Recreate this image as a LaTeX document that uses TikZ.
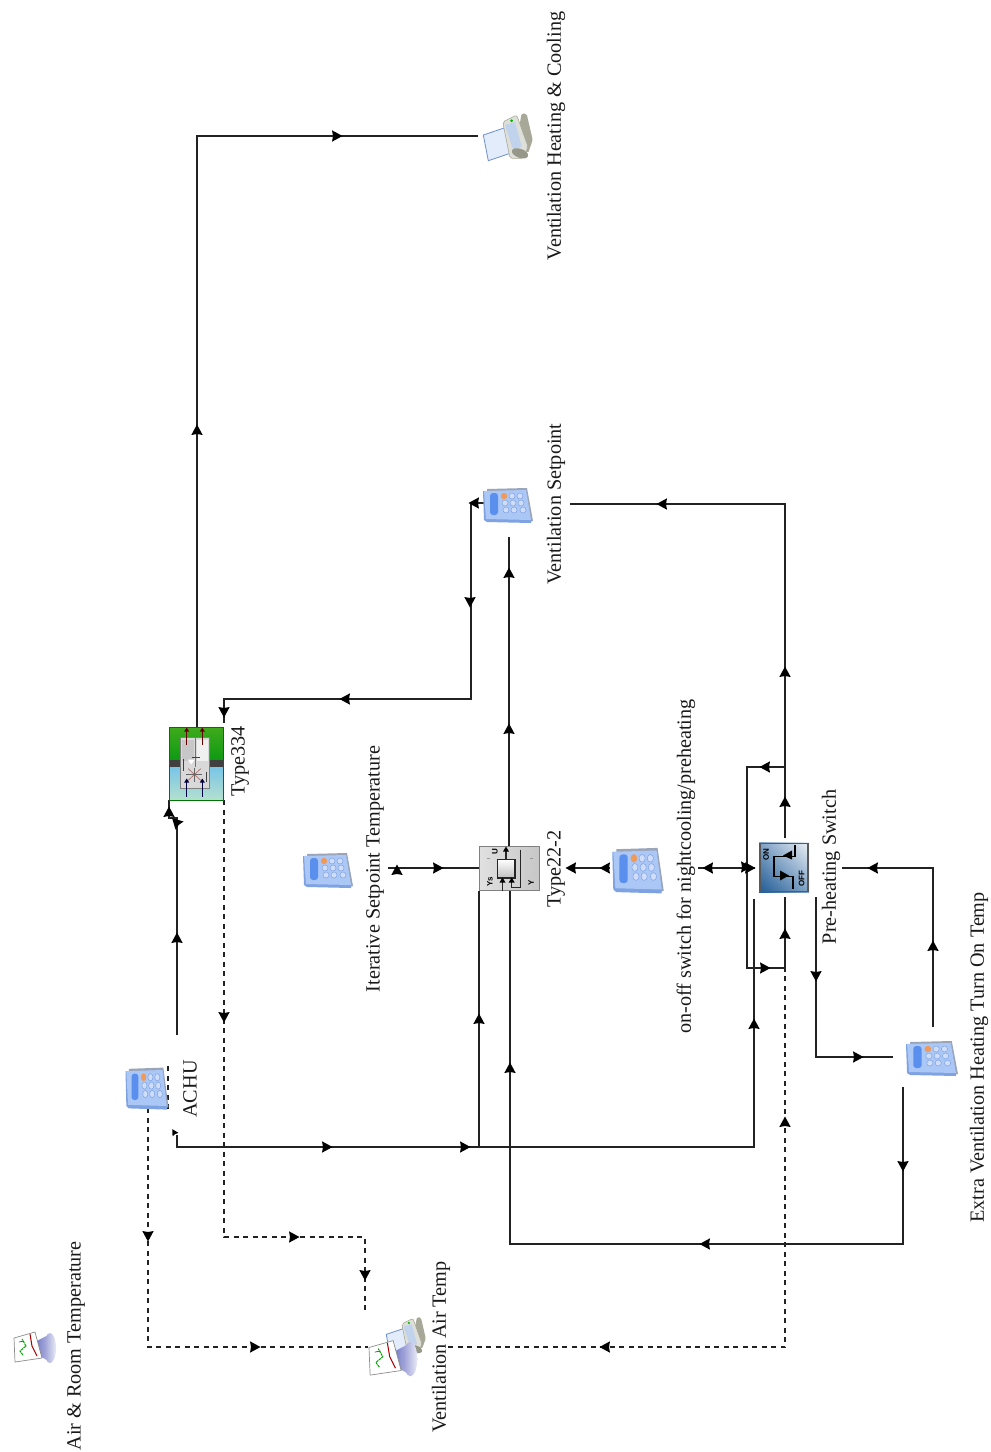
\documentclass[tikz,border=0pt]{standalone}
\usepackage{fontspec}
\setmainfont{Liberation Serif}
\newfontfamily\iconfont{Liberation Sans}
\usetikzlibrary{calc,shadings}
\definecolor{wirec}{HTML}{222222}
\definecolor{calcbody}{HTML}{ABC7F6}
\definecolor{calcdark}{HTML}{6F7F9C}
\definecolor{calcblue}{HTML}{5B8FEE}
\definecolor{calckey}{HTML}{CFDDF8}
\definecolor{calcedge}{HTML}{7FA3E2}
\definecolor{orangekey}{HTML}{F09A5A}
\definecolor{megaphone}{HTML}{6F75C4}
\definecolor{printgray}{HTML}{A8A898}
\definecolor{printlight}{HTML}{DEDFD8}
\definecolor{printblue}{HTML}{C0D2EC}
\definecolor{paperblue}{HTML}{E3ECFB}
\definecolor{paperedge}{HTML}{6E8FD0}
\definecolor{swdark}{HTML}{1F5A94}
\definecolor{swmid}{HTML}{7FA2C6}
\definecolor{swlight}{HTML}{EDF1F6}
\definecolor{ahugreenA}{HTML}{3FAA1C}
\definecolor{ahugreenB}{HTML}{0E9A14}
\definecolor{ahublueA}{HTML}{79C5E6}
\definecolor{ahublueB}{HTML}{B4E0CE}
\tikzset{
  x=1pt,y=-1pt,
  wire/.style={draw=wirec,line width=1.1pt},
  dwire/.style={draw=wirec,line width=1.1pt,dash pattern=on 5pt off 4.5pt},
  lab/.style={rotate=90,inner sep=0pt,font=\fontsize{20.2}{20}\selectfont,text=black!90},
  tip/.pic={\fill[black] (5.5,0) -- (-5,5.7) -- (-4,0) -- (-5,-5.7) -- cycle;},
  icotext/.style={rotate=90,inner sep=0pt,font=\iconfont\bfseries\fontsize{8}{8}\selectfont}
}
\newcommand\tipat[3]{\pic[rotate=#3] at (#1,#2) {tip};}
% name, x, y, xscale, yscale
\newcommand\calcicon[5]{%
  \node[inner sep=0pt,minimum width=#4*48pt,minimum height=#5*34pt] (#1) at (#2,#3) {};
  \begin{scope}[shift={(#2,#3)},xscale=#4,yscale=#5]
    \fill[calcdark!70] (-21,-16) -- (19,-17) -- (25,16) -- (21,17) -- (-21,-12) -- cycle;
    \fill[calcedge] (-25,-14) -- (-24,15) -- (-21,17) -- (23,18) -- (23,15) -- (-20,-14) -- cycle;
    \fill[calcbody] (-24,-14) -- (18,-15) -- (23,15) -- (-22,14) -- cycle;
    \fill[calcblue,rounded corners=3pt] (-18,-12) rectangle (-10,10);
    \fill[orangekey] (-4,-9) circle (3.2);
    \foreach \kx/\ky in {4/-9,12/-9,-3/-2,5/-2,13/-2,-2/5,6/5,15/5}
      {\fill[calckey] (\kx,\ky) circle (3);\draw[calcedge,line width=.5pt] (\kx,\ky) circle (3);}
  \end{scope}}
\newcommand\printerdraw{%
    \fill[paperblue] (-24.7,-2) -- (-3,-9.3) -- (7,14.7) -- (-19.7,23.7) -- cycle;
    \draw[paperedge,line width=.8pt] (-3,-9.3) -- (-24.7,-2) -- (-19.7,23.7) -- (7,14.7);
    \fill[printgray,rounded corners=1.5pt] (13.7,-23.7) -- (18.7,-23) -- (24.7,3) -- (20,16.3) -- (8.7,3) -- cycle;
    \fill[printlight,draw=printgray,line width=.6pt,rounded corners=2pt] (-5.3,-15) -- (8.7,-22) -- (20,9.7) -- (15.3,21.3) -- (2,21.3) -- cycle;
    \fill[printblue] (-3,-12) -- (7,-15) -- (13.7,9.7) -- (5.3,13) -- cycle;
    \fill[printgray!90!black,rotate around={-20:(12,16.3)}] (12,16.3) ellipse (8.5 and 4.5);
    \fill[green!70!black] (3.7,-16.3) circle (1.5);
}
\newcommand\plotdraw{%
    \shade[left color=megaphone,right color=megaphone!45] (1,-6) -- (16,-14) -- (16,14) -- (6,8) -- cycle;
    \shade[left color=megaphone!70,right color=megaphone!15] (16,0) ellipse (6 and 15);
    \fill[white,draw=black!45,line width=.7pt] (-20,-10) -- (1,-16) -- (8,10) -- (-19,14) -- cycle;
    \draw[green!65!black,line width=1pt,dash pattern=on 2.5pt off .7pt] (-11,7) -- (-14,3) -- (-8,-2) -- (-12,-9);
    \draw[red!65!black,line width=1pt] (-4,-14) -- (-2,-2) -- (3,8);
    \draw[black!70,line width=.7pt] (-15,-6) -- (-10,-7);
}
\begin{document}
\begin{tikzpicture}
\useasboundingbox (0,0) rectangle (991,1452);
\fill[white] (0,0) rectangle (991,1452);

% --- wires (drawn first, icons on top)
\coordinate (p1) at (197,727);  \coordinate (p2) at (197,136);  \coordinate (prn) at (478,136);
\coordinate (s1) at (484,503);  \coordinate (s2) at (471,503);  \coordinate (s3) at (471,699);
\coordinate (s4) at (224,699);  \coordinate (s5) at (224,723);
\coordinate (a1) at (177,1035); \coordinate (a2) at (177,818);  \coordinate (a3) at (169,818);
\coordinate (a4) at (169,800);
\coordinate (b1) at (177,1135); \coordinate (b2) at (177,1147);
\coordinate (b3) at (754,1147); \coordinate (b4) at (754,899);  \coordinate (b5) at (479,1147);
\coordinate (b6) at (479,891);
\coordinate (l1) at (785,767);  \coordinate (l2) at (747,767);  \coordinate (l3) at (747,968);
\coordinate (l4) at (785,968);  \coordinate (l5) at (785,897);  \coordinate (sw1) at (785,838);
\coordinate (sw2) at (785,504); \coordinate (sw3) at (570,504);
\coordinate (oc1) at (698,868); \coordinate (oc2) at (755,868);
\coordinate (oc3) at (568,868); \coordinate (oc4) at (610,868);
\coordinate (t1) at (479,868);  \coordinate (t2) at (388,868);
\coordinate (t3) at (509,846);  \coordinate (t4) at (509,537);
\coordinate (t5) at (510,891);  \coordinate (t6) at (510,1244); \coordinate (t7) at (903,1244);
\coordinate (t8) at (903,1087);
\coordinate (h1) at (816,897);  \coordinate (h2) at (816,1057); \coordinate (h3) at (893,1057);
\coordinate (e1) at (933,1027); \coordinate (e2) at (933,868);  \coordinate (e3) at (842,868);
\coordinate (d1) at (224,800);  \coordinate (d2) at (224,1237); \coordinate (d3) at (365,1237);
\coordinate (d4) at (365,1313);
\coordinate (f1) at (148,1108); \coordinate (f2) at (148,1347); \coordinate (f3) at (368,1347);
\coordinate (g1) at (448,1347); \coordinate (g2) at (785,1347); \coordinate (g3) at (785,968);
\coordinate (k1) at (168,1066); \coordinate (k2) at (168,1110);

\draw[wire] (p1) -- (p2) -- (prn);
\draw[wire] (s1) -- (s2) -- (s3) -- (s4) -- (s5);
\draw[wire] (a1) -- (a2) -- (a3) -- (a4);
\draw[wire] (b1) -- (b2) -- (b3) -- (b4);
\draw[wire] (b5) -- (b6);
\draw[wire] (l4) -- (l3) -- (l2) -- (l1);
\draw[wire] (l4) -- (l5);
\draw[wire] (sw1) -- (sw2) -- (sw3);
\draw[wire] (oc1) -- (oc2);
\draw[wire] (oc3) -- (oc4);
\draw[wire] (t1) -- (t2);
\draw[wire] (t3) -- (t4);
\draw[wire] (t5) -- (t6) -- (t7) -- (t8);
\draw[wire] (h1) -- (h2) -- (h3);
\draw[wire] (e1) -- (e2) -- (e3);
\draw[dwire] (d1) -- (d2) -- (d3) -- (d4);
\draw[dwire] (f1) -- (f2) -- (f3);
\draw[dwire] (g1) -- (g2) -- (g3);
\draw[dwire] (k1) -- (k2);

% --- arrow heads
\tipat{197}{430}{90}\tipat{337}{136}{0}
\tipat{474}{503}{180}\tipat{470}{602}{270}\tipat{345}{699}{180}\tipat{224}{712}{270}
\tipat{177}{938}{90}\tipat{176}{822}{135}\tipat{169}{812}{90}
\pic[rotate=120,scale=.6] at (174,1132) {tip};
\tipat{327}{1147}{0}\tipat{465}{1147}{0}\tipat{754}{1024}{90}\tipat{479}{1019}{90}
\tipat{765}{767}{180}\tipat{765}{968}{0}\tipat{785}{934}{90}\tipat{785}{802}{90}\tipat{785}{672}{90}\tipat{662}{504}{180}
\tipat{708}{868}{180}\tipat{746}{867}{0}\tipat{750}{868}{0}
\tipat{571}{868}{180}\tipat{605}{868}{180}
\tipat{397}{870}{90}\tipat{438}{868}{0}
\tipat{509}{729}{90}\tipat{509}{573}{90}
\tipat{510}{1068}{90}\tipat{705}{1244}{180}\tipat{903}{1166}{270}
\tipat{816}{976}{270}\tipat{858}{1057}{0}
\tipat{933}{946}{90}\tipat{873}{868}{180}
\tipat{224}{1017}{270}\tipat{294}{1237}{0}\tipat{365}{1275}{270}
\tipat{148}{1236}{270}\tipat{255}{1347}{0}
\tipat{605}{1347}{180}\tipat{785}{1122}{90}

% --- calculators
\calcicon{achu}{147}{1088}{.86}{1.2}
\calcicon{iter}{328}{870}{1}{1}
\calcicon{vset}{508}{505}{1}{1}
\calcicon{onoff}{638}{870}{1.03}{1.3}
\calcicon{extra}{932}{1058}{1.04}{1}

% --- printer
\node[inner sep=0pt,minimum width=50pt,minimum height=48pt] (vhc) at (508,137) {};
\begin{scope}[shift={(508,137)}]\printerdraw\end{scope}

% --- online plotters
\node[inner sep=0pt,minimum width=42pt,minimum height=30pt] (arplot) at (34,1348) {};
\begin{scope}[shift={(34,1348)}]\plotdraw\end{scope}
\node[inner sep=0pt,minimum width=48pt,minimum height=54pt] (vatplot) at (392,1348) {};
\begin{scope}[shift={(406,1336)},scale=.8]\printerdraw\end{scope}
\begin{scope}[shift={(392,1359)},scale=1.15]\plotdraw\end{scope}

% --- Type334
\node[inner sep=0pt,minimum width=54pt,minimum height=73pt] (ty334) at (196,763.5) {};
\begin{scope}[shift={(196,763.5)}]
  \shade[top color=ahugreenA,bottom color=ahugreenB] (-27,-36) rectangle (27,-3.5);
  \fill[black!75] (-27,-3.5) rectangle (27,3.8);
  \shade[top color=ahublueA,bottom color=ahublueB] (-27,3.8) rectangle (27,36);
  \draw[black!55!green,line width=.8pt] (-27,-36) rectangle (27,36.5);
  \fill[black!15] (-16,-26) rectangle (13,25);
  \draw[black!50,line width=.7pt] (-16,-26) rectangle (13,25);
  \fill[black!22] (-14,-24) rectangle (-2,-3);
  \fill[black!6] (1,-24) rectangle (12,-3);
  \draw[black!55,line width=.7pt] (-1,-26) -- (-1,3);
  \fill[white] (-8,-4) -- (-1,-4) -- (-5,1) -- cycle;
  \draw[red!45!black!60,line width=.6pt] (-8,5) -- (5,17) (5,5) -- (-8,17);
  \draw[black!60,line width=.6pt] (-2,4) -- (-2,18) (-10,11) -- (6,11);
  \foreach \ax in {-9.3,6.3}{
    \draw[red!40!black,line width=1.3pt] (\ax,-35) -- (\ax,-18.5);
    \fill[red!40!black] (\ax-2.5,-32) -- (\ax+2.5,-32) -- (\ax,-36) -- cycle;
    \draw[blue!25!black,line width=1.3pt] (\ax,16.5) -- (\ax,33);
    \fill[blue!25!black] (\ax-2.5,19) -- (\ax+2.5,19) -- (\ax,15) -- cycle;
  }
  \draw[black!75,line width=1pt] (-13,-5) -- (-13,7) (10,8) -- (10,18);
  \draw[black!75,line width=1pt] (-4,-6) -- (4,-6);
\end{scope}

% --- Type22-2
\node[inner sep=0pt,minimum width=60pt,minimum height=45pt] (ty22) at (509,868.5) {};
\begin{scope}[shift={(509,868.5)}]
  \shade[left color=black!12,right color=black!22,draw=black!50,line width=1pt] (-30,-22) rectangle (30,22);
  \draw[black!40,line width=.5pt] (-22,-10) -- (-19,-10) (21,-10) -- (24,-10);
  \shade[top color=white,bottom color=black!25,draw=black!85,line width=1.6pt] (-11.7,-9) rectangle (6,9.5);
  \draw[black!85,line width=1.4pt] (11.7,-19) -- (11.7,19) -- (2.7,19) -- (2.7,9.5);
  \draw[black!85,line width=1.4pt] (-3,-19) -- (-3,-9);
  \fill[black] (-6,-17) -- (0,-17) -- (-3,-22) -- cycle;
  \draw[black!85,line width=1.4pt] (-6.5,22) -- (-6.5,9.5);
  \fill[black] (-9.5,14) -- (-3.5,14) -- (-6.5,9) -- cycle;
  \fill[black] (-.3,14) -- (5.7,14) -- (2.7,9) -- cycle;
  \node[icotext] (lblU) at (-14,-16.5) {U};
  \node[icotext] (lblYs) at (-19,13) {Ys};
  \node[icotext] (lblY) at (22,14.5) {Y};
\end{scope}

% --- switch
\node[inner sep=0pt,minimum width=50pt,minimum height=50pt] (switch) at (784,867.5) {};
\begin{scope}[shift={(784,867.5)}]
  \shade[lower left=swdark,upper right=swlight,lower right=swmid,upper left=swmid] (-25,-25) rectangle (25,25);
  \draw[black!65,line width=1.3pt] (-24,-24) rectangle (24,24);
  \draw[black,line width=1.8pt,line join=miter] (11,-22.5) -- (11,-11) -- (-10,-11) -- (-10,9) -- (9.3,9) -- (9.3,21);
  \fill[black] (-1,-12) -- (8,-17) -- (8,-8) -- cycle;
  \fill[black] (5,8) -- (-4,3) -- (-4,13) -- cycle;
  \node[icotext] (lblON) at (-18,-13) {ON};
  \node[icotext] (lblOFF) at (17.7,11) {OFF};
\end{scope}

% --- labels
\node[lab] (lvhc) at (556,136) {Ventilation Heating \& Cooling};
\node[lab] (lvset) at (556,504) {Ventilation Setpoint};
\node[lab] (l334) at (240,761.5) {Type334};
\node[lab] (liter) at (375,869) {Iterative Setpoint Temperature};
\node[lab] (lachu) at (190,1089) {ACHU};
\node[lab] (l22) at (556,869) {Type22-2};
\node[lab] (lonoff) at (686,866.5) {on-off switch for nightcooling/preheating};
\node[lab] (lpre) at (831,867) {Pre-heating Switch};
\node[lab] (lextra) at (979,1057.5) {Extra Ventilation Heating Turn On Temp};
\node[lab] (lvat) at (441,1347) {Ventilation Air Temp};
\node[lab] (lar) at (76,1346) {Air \& Room Temperature};
\end{tikzpicture}
\end{document}
